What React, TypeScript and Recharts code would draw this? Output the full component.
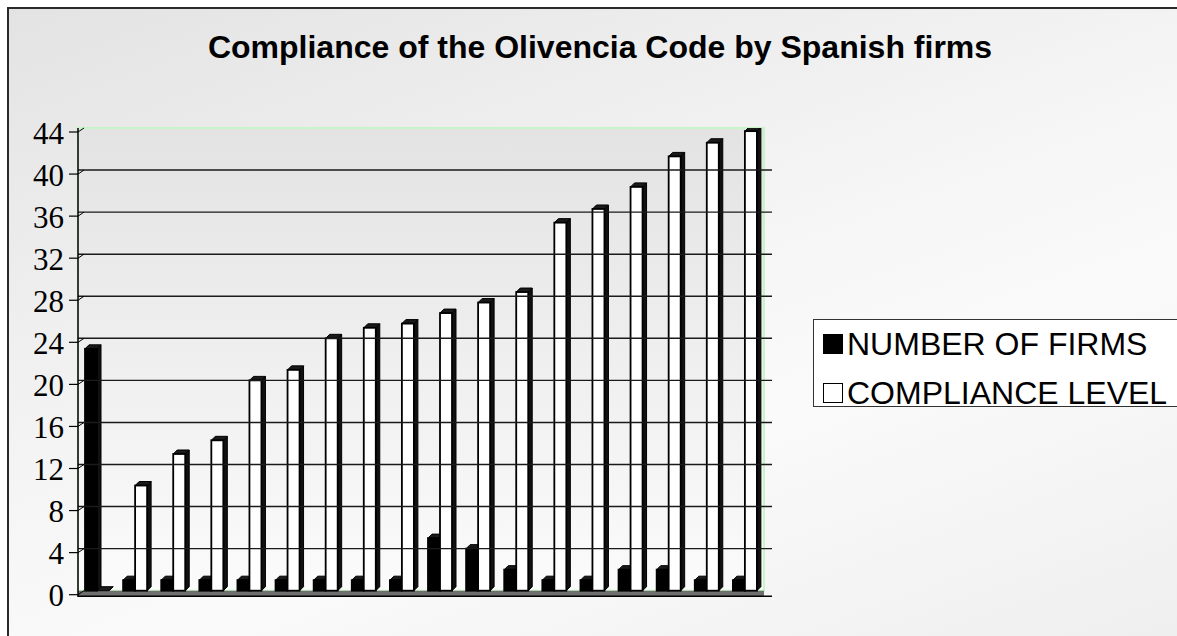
import React from "react";
import { Bar, BarChart, Legend, ReferenceArea, ReferenceLine, XAxis, YAxis } from "recharts";

// groups of firms sorted by compliance level
const groups = ["G1", "G2", "G3", "G4", "G5", "G6", "G7", "G8", "G9", "G10", "G11", "G12", "G13", "G14", "G15", "G16", "G17", "G18"];
const numberOfFirms = [23, 1, 1, 1, 1, 1, 1, 1, 1, 5, 4, 2, 1, 1, 2, 2, 1, 1];
const complianceLevel = [0, 10, 13, 14.3, 20, 21, 24, 25, 25.4, 26.4, 27.4, 28.4, 35, 36.3, 38.4, 41.3, 42.6, 43.7];
const yTicks = [0, 4, 8, 12, 16, 20, 24, 28, 32, 36, 40, 44];
const gridValues = [4, 8, 12, 16, 20, 24, 28, 32, 36, 40];
const FLOOR = -0.6;

const data = groups.map((g, i) => ({
  group: g,
  firms: numberOfFirms[i],
  compliance: complianceLevel[i],
}));

const SANS = '"Liberation Sans", Arial, sans-serif';
const SERIF = '"Liberation Serif", "Times New Roman", serif';

// fake 3D column: front face + dark side + dark top
function Column3D(props: any) {
  const { x, y, width, height, fill } = props;
  if (x == null || y == null) return null;
  const w = width;
  const h = Math.max(height, 0);
  const d = 4;
  const e = 4;
  return (
    <g>
      <polygon
        points={`${x + w},${y} ${x + w + d},${y - e} ${x + w + d},${y + h - e} ${x + w},${y + h}`}
        fill="#111"
        stroke="#000"
        strokeWidth={1}
      />
      <polygon
        points={`${x},${y} ${x + d},${y - e} ${x + w + d},${y - e} ${x + w},${y}`}
        fill="#1a1a1a"
        stroke="#000"
        strokeWidth={1}
      />
      {h > 0 && (
        <rect x={x} y={y} width={w} height={h} fill={fill} stroke="#000" strokeWidth={1.8} />
      )}
    </g>
  );
}

function YTick(props: any) {
  const { x, y, payload } = props;
  return (
    <g>
      <text
        x={x - 14}
        y={y + 5}
        textAnchor="end"
        dominantBaseline="central"
        style={{ fontFamily: SERIF, fontSize: 31 }}
        fill="#000"
      >
        {payload.value}
      </text>
      <line x1={x - 9} y1={y + 4} x2={x} y2={y + 4} stroke="#000" strokeWidth={1.2} />
      <line x1={x} y1={y + 4} x2={x + 6} y2={y} stroke="#000" strokeWidth={1} />
    </g>
  );
}

function LegendBox() {
  const items = [
    { label: "NUMBER OF FIRMS", fill: "#000" },
    { label: "COMPLIANCE LEVEL", fill: "#fff" },
  ];
  return (
    <div
      style={{
        width: 380,
        height: 88,
        boxSizing: "border-box",
        border: "1.5px solid #333",
        background: "#fff",
        fontFamily: SANS,
        fontSize: 32,
        color: "#000",
        paddingLeft: 9,
        paddingTop: 5,
      }}
    >
      {items.map((it) => (
        <div key={it.label} style={{ display: "flex", alignItems: "center", height: 38, marginBottom: 11, lineHeight: "38px" }}>
          <span
            style={{
              display: "inline-block",
              width: 20,
              height: 20,
              boxSizing: "border-box",
              border: "1.5px solid #000",
              background: it.fill,
              marginRight: 4,
            }}
          />
          <span>{it.label}</span>
        </div>
      ))}
    </div>
  );
}

export default function App() {
  return (
    <div style={{ position: "fixed", left: 0, top: 0, width: 1177, height: 636, overflow: "hidden", background: "#fff" }}>
      <style>{`html, body { overflow: hidden; }`}</style>
      <div
        style={{
          position: "absolute",
          left: 7,
          top: 7,
          width: 1220,
          height: 700,
          borderTop: "2px solid #2a2a2a",
          borderLeft: "2px solid #2a2a2a",
          background: "linear-gradient(160deg, #e3e3e3 0%, #f6f6f6 45%, #fafafa 60%, #ececec 100%)",
        }}
      />
      <div
        style={{
          position: "absolute",
          left: 0,
          top: 29,
          width: 1200,
          textAlign: "center",
          fontFamily: SANS,
          fontWeight: "bold",
          fontSize: 32,
          color: "#000",
          lineHeight: "36px",
        }}
      >
        Compliance of the Olivencia Code by Spanish firms
      </div>
      <div style={{ position: "absolute", left: 0, top: 0, width: 1177, height: 636, overflow: "hidden" }}>
        <BarChart
          width={1177}
          height={636}
          data={data}
          margin={{ top: 128, right: 405, bottom: 39, left: 18 }}
          barGap={0}
          barSize={12}
        >
          <defs>
            <linearGradient id="wall" x1="0" y1="0" x2="0" y2="1">
              <stop offset="0%" stopColor="#e3e3e3" />
              <stop offset="100%" stopColor="#fbfbfb" />
            </linearGradient>
          </defs>
          <ReferenceArea y1={0} y2={44} fill="url(#wall)" fillOpacity={1} stroke="#c6f5c6" strokeWidth={2} />
          <ReferenceArea y1={FLOOR} y2={0} fill="#6f6f6f" fillOpacity={1} stroke="none" />
          <ReferenceLine y={FLOOR + 0.08} stroke="#000" strokeWidth={1.5} />
          {gridValues.map((v) => (
            <ReferenceLine key={v} y={v} stroke="#1a1a1a" strokeWidth={1.4} />
          ))}
          <XAxis
            dataKey="group"
            height={0}
            tick={false}
            tickLine={false}
            padding={{ left: 0, right: 8 }}
            axisLine={false}
          />
          <YAxis
            width={60}
            domain={[FLOOR, 44]}
            ticks={yTicks}
            interval={0}
            tickSize={0}
            tickMargin={0}
            tick={<YTick />}
            axisLine={{ stroke: "#000", strokeWidth: 1.5 }}
            tickLine={false}
            allowDataOverflow
          />
          <Legend
            layout="vertical"
            align="center"
            verticalAlign="middle"
            content={<LegendBox />}
            wrapperStyle={{ position: "absolute", left: 813, top: 319, width: 380, height: 88 }}
          />
          <Bar dataKey="firms" name="NUMBER OF FIRMS" fill="#000" shape={<Column3D />} isAnimationActive={false} />
          <Bar dataKey="compliance" name="COMPLIANCE LEVEL" fill="#fff" shape={<Column3D />} isAnimationActive={false} />
        </BarChart>
      </div>
    </div>
  );
}
